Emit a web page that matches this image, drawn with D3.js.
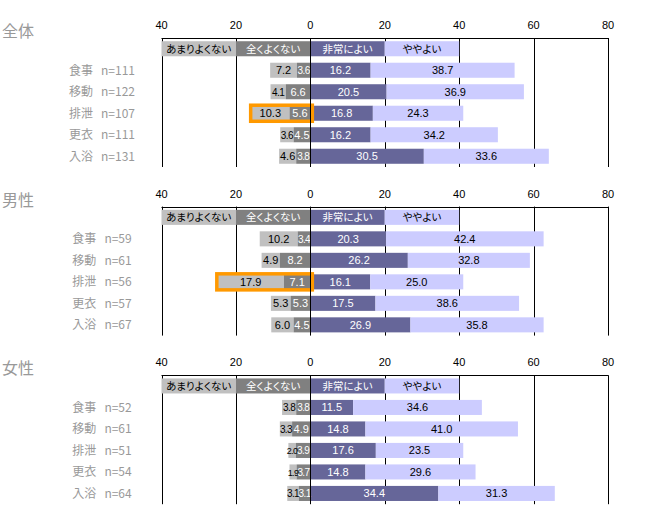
<!DOCTYPE html>
<html>
<head>
<meta charset="utf-8">
<script src="https://cdn.jsdelivr.net/npm/d3@7"></script>
<style>
  body { margin: 0; background: #fff; }
  svg { display: block; font-family: "Noto Sans CJK JP", "Noto Sans", sans-serif; font-feature-settings: "palt"; }
</style>
</head>
<body>
<svg id="chart" width="651" height="508"></svg>
<script>
// ---- data ----
const panelTitles = ["全体", "男性", "女性"];
const items = ["食事", "移動", "排泄", "更衣", "入浴"];
const nCounts = [
  [111, 122, 107, 111, 131],
  [59, 61, 56, 57, 67],
  [52, 61, 51, 54, 64]
];
const seriesNames = ["あまりよくない", "全くよくない", "非常によい", "ややよい"];
// あまりよくない (somewhat bad)
const somewhatBad = [
  [7.2, 4.1, 10.3, 3.6, 4.6],
  [10.2, 4.9, 17.9, 5.3, 6.0],
  [3.8, 3.3, 2.0, 1.9, 3.1]
];
// 全くよくない (not good at all)
const notAtAll = [
  [3.6, 6.6, 5.6, 4.5, 3.8],
  [3.4, 8.2, 7.1, 5.3, 4.5],
  [3.8, 4.9, 3.9, 3.7, 3.1]
];
// 非常によい (very good)
const veryGood = [
  [16.2, 20.5, 16.8, 16.2, 30.5],
  [20.3, 26.2, 16.1, 17.5, 26.9],
  [11.5, 14.8, 17.6, 14.8, 34.4]
];
// ややよい (somewhat good)
const somewhatGood = [
  [38.7, 36.9, 24.3, 34.2, 33.6],
  [42.4, 32.8, 25.0, 38.6, 35.8],
  [34.6, 41.0, 23.5, 29.6, 31.3]
];
const axisTicks = [-40, -20, 0, 20, 40, 60, 80];
const tickLabels = ["40", "20", "0", "20", "40", "60", "80"];
const highlights = [["全体", "排泄"], ["男性", "排泄"]];

// ---- styles ----
const colors = ["#c0c0c0", "#808080", "#666699", "#ccccff"];
const textColors = ["#000", "#fff", "#fff", "#000"];

const svg = d3.select("#chart");
const x = d3.scaleLinear().domain([-40, 80]).range([161.5, 608]);
const panelTops = [38, 206.6, 375.2];
const panelH = 129;

panelTitles.forEach((title, p) => {
  const top = panelTops[p];
  const g = svg.append("g");
  const bandDomain = ["__legend"].concat(items);
  const y = d3.scaleBand().domain(bandDomain).range([top, top + panelH])
    .paddingInner(0.3).paddingOuter(0.15);

  // title
  g.append("text").attr("x", 2).attr("y", top - 1)
    .attr("font-size", 16).attr("fill", "#999").text(title);

  // tick labels
  g.selectAll(".tl").data(axisTicks).enter().append("text")
    .attr("x", d => x(d)).attr("y", top - 9)
    .attr("text-anchor", "middle").attr("font-size", 11)
    .attr("font-family", "Liberation Sans, Arial, sans-serif")
    .attr("fill", "#000")
    .text((d, i) => tickLabels[i]);

  // gridlines (behind)
  g.selectAll(".gl").data(axisTicks.filter(d => d !== 0)).enter().append("line")
    .attr("x1", d => Math.round(x(d)) + 0.5).attr("x2", d => Math.round(x(d)) + 0.5)
    .attr("y1", top).attr("y2", top + panelH)
    .attr("stroke", "#000").attr("stroke-width", 1);
  g.append("line")
    .attr("x1", x(-40)).attr("x2", x(80))
    .attr("y1", Math.round(top) + 0.5).attr("y2", Math.round(top) + 0.5)
    .attr("stroke", "#000");

  // legend band
  const legendSegs = [[-40, -20], [-20, 0], [0, 20], [20, 40]];
  legendSegs.forEach((s, i) => {
    g.append("rect").attr("x", x(s[0])).attr("width", x(s[1]) - x(s[0]))
      .attr("y", y("__legend")).attr("height", y.bandwidth())
      .attr("fill", colors[i]);
    g.append("text").attr("x", (x(s[0]) + x(s[1])) / 2)
      .attr("y", y("__legend") + y.bandwidth() / 2 + 4)
      .attr("text-anchor", "middle").attr("font-size", 10.5)
      .attr("fill", textColors[i]).text(seriesNames[i]);
  });

  // bars
  items.forEach((item, j) => {
    const v = [somewhatBad[p][j], notAtAll[p][j], veryGood[p][j], somewhatGood[p][j]];
    const segs = [
      [-(v[0] + v[1]), -v[1]],
      [-v[1], 0],
      [0, v[2]],
      [v[2], v[2] + v[3]]
    ];
    const yy = y(item);
    segs.forEach((s, i) => {
      g.append("rect").attr("x", x(s[0])).attr("width", x(s[1]) - x(s[0]))
        .attr("y", yy).attr("height", y.bandwidth()).attr("fill", colors[i]);
    });
    segs.forEach((s, i) => {
      const w = x(s[1]) - x(s[0]);
      const small = w < 16;
      const tiny = w < 10;
      g.append("text").attr("x", (x(s[0]) + x(s[1])) / 2)
        .attr("y", yy + y.bandwidth() / 2 + 4)
        .attr("text-anchor", "middle").attr("font-size", tiny ? 9 : (small ? 10 : 11))
        .attr("letter-spacing", small ? -0.6 : 0)
        .attr("font-family", "Liberation Sans Narrow, Liberation Sans, Arial, sans-serif")
        .attr("fill", textColors[i]).text(v[i].toFixed(1));
    });
    // category label
    g.append("text").attr("x", 102).attr("y", yy + y.bandwidth() / 2 + 4.5)
      .attr("text-anchor", "middle").attr("font-size", 12).attr("fill", "#999")
      .style("white-space", "pre")
      .text(item + "   n=" + nCounts[p][j]);

    // highlight
    if (highlights.some(h => h[0] === title && h[1] === item)) {
      g.append("rect")
        .attr("x", x(segs[0][0]) - 0.5).attr("width", x(0) - x(segs[0][0]) + 2.5)
        .attr("y", yy - 0.5).attr("height", y.bandwidth() + 1)
        .attr("fill", "none").attr("stroke", "#ff9900").attr("stroke-width", 3.5);
    }
  });

  // zero axis line on top
  g.append("line")
    .attr("x1", Math.round(x(0)) + 0.5).attr("x2", Math.round(x(0)) + 0.5)
    .attr("y1", top).attr("y2", top + panelH)
    .attr("stroke", "#000");
});
</script>
</body>
</html>
